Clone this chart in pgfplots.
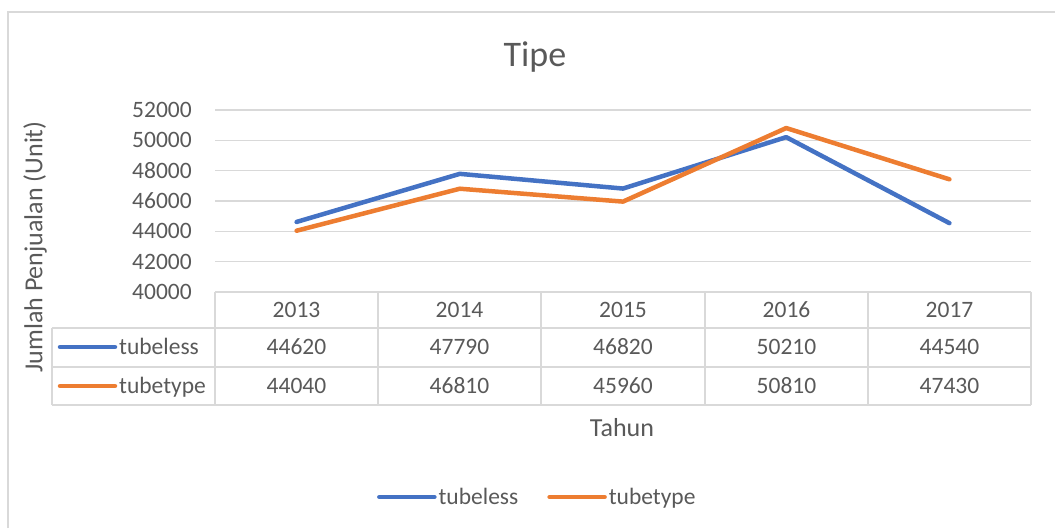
\documentclass[border=0pt]{standalone}
\usepackage{fontspec}
\setmainfont{Carlito}
\usepackage{pgfplots}
\pgfplotsset{compat=1.18}
\definecolor{sblue}{HTML}{4472C4}
\definecolor{sorange}{HTML}{ED7D31}
\definecolor{gridc}{HTML}{D9D9D9}
\definecolor{txt}{HTML}{595959}
\newcommand{\fs}{\fontsize{23.5}{28}\selectfont}
\begin{document}
\begin{tikzpicture}[x=1pt,y=1pt]
\useasboundingbox (0,0) rectangle (1055,528);
\draw[gridc, line width=1.2pt] (8,0) -- (8,516) -- (1055,516);
\begin{axis}[
  at={(215pt,236pt)}, anchor=south west,
  scale only axis, width=816pt, height=182pt,
  xmin=0, xmax=5, ymin=40000, ymax=52000,
  ytick={40000,42000,...,52000}, xtick=\empty,
  scaled y ticks=false,
  ymajorgrids, grid style={gridc, line width=1.2pt},
  axis line style={draw=none}, major tick length=0pt,
  clip=false,
  yticklabel style={font=\fs, text=txt, anchor=east, inner sep=0pt, xshift=-23pt,
    /pgf/number format/fixed, /pgf/number format/precision=0,
    /pgf/number format/1000 sep={}, /pgf/number format/assume math mode=true},
  legend style={at={(0.395,-1.126)}, anchor=center, draw=none, fill=none,
    legend columns=2, font=\fs, text=txt, inner sep=0pt,
    nodes={inner sep=2pt},
    /tikz/every even column/.append style={column sep=27pt}},
  legend image code/.code={\draw[#1] (0pt,0pt) -- (55pt,0pt);},
  every axis plot/.append style={line width=4.5pt, line cap=round, line join=round},
]
\addplot[sblue] coordinates {(0.5,44620) (1.5,47790) (2.5,46820) (3.5,50210) (4.5,44540)};
\addlegendentry{tubeless}
\addplot[sorange] coordinates {(0.5,44040) (1.5,46810) (2.5,45960) (3.5,50810) (4.5,47430)};
\addlegendentry{tubetype}
\end{axis}
% data table grid
\draw[gridc, line width=1.2pt]
  (215,236) -- (1031,236)
  (52,200) -- (1031,200)
  (52,161) -- (1031,161)
  (52,123) -- (1031,123)
  (52,200) -- (52,123);
\foreach \xx in {215,378,541,705,868,1031} {\draw[gridc, line width=1.2pt] (\xx,236) -- (\xx,123);}
% table text
\foreach \xx/\yr/\a/\b in {296.5/2013/44620/44040, 459.5/2014/47790/46810, 623/2015/46820/45960, 786.5/2016/50210/50810, 949.5/2017/44540/47430} {
  \node[font=\fs, text=txt, anchor=center] at (\xx,218) {\yr};
  \node[font=\fs, text=txt, anchor=center] at (\xx,181) {\a};
  \node[font=\fs, text=txt, anchor=center] at (\xx,142) {\b};
}
\draw[sblue, line width=4.5pt, line cap=round] (60,181) -- (115,181);
\draw[sorange, line width=4.5pt, line cap=round] (60,142) -- (115,142);
\node[font=\fs, text=txt, anchor=base west, inner sep=0pt] at (119,173.5) {tubeless};
\node[font=\fs, text=txt, anchor=base west, inner sep=0pt] at (119,134.5) {tubetype};
% titles
\node[font=\fontsize{36}{42}\selectfont, text=txt] at (535,471) {Tipe};
\node[font=\fontsize{26}{30}\selectfont, text=txt, anchor=center] at (622,100) {Tahun};
\node[font=\fontsize{26}{30}\selectfont, text=txt, rotate=90, anchor=center] at (35,281) {Jumlah Penjualan (Unit)};
\end{tikzpicture}
\end{document}
